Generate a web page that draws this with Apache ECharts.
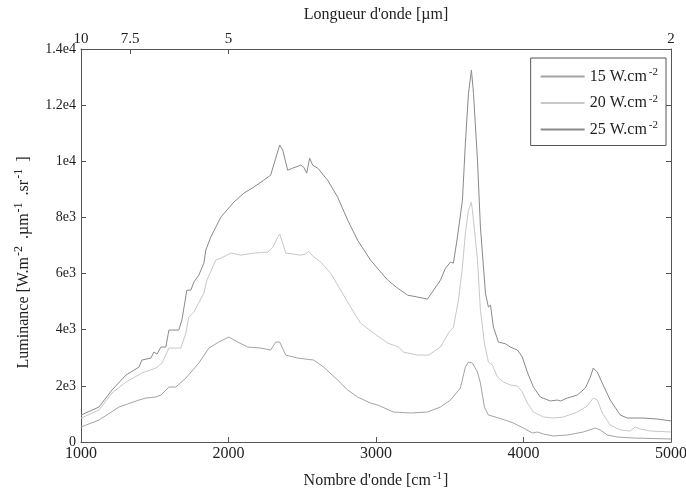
<!DOCTYPE html>
<html>
<head>
<meta charset="utf-8">
<script src="https://cdn.jsdelivr.net/npm/echarts@6/dist/echarts.min.js"></script>
<style>
  html, body { margin: 0; padding: 0; background: #fff; }
  #chart { width: 686px; height: 490px; }
</style>
</head>
<body>
<div id="chart"></div>
<script>
// nombre d'onde [cm-1] / luminance
var wn15 = [1000,1122,1257,1393,1440,1508,1542,1596,1643,1711,1799,1867,1934,2002,2063,2131,2219,2286,2320,2347,2388,2469,2577,2645,2740,2808,2875,2963,3011,3119,3234,3349,3437,3505,3572,3606,3627,3654,3688,3708,3735,3762,3823,3870,3931,3999,4060,4094,4135,4202,4297,4405,4487,4521,4568,4636,4744,5000];
var lum15 = [534,783,1246,1495,1566,1602,1673,1958,1958,2278,2812,3346,3560,3738,3560,3382,3346,3275,3560,3560,3097,2990,2919,2670,2207,1851,1602,1388,1317,1068,1032,1068,1246,1495,1922,2670,2848,2812,2492,2100,1246,961,870,790,676,498,320,356,285,214,249,356,498,427,249,178,142,107];

var wn20 = [1000,1122,1210,1305,1413,1508,1549,1596,1677,1711,1731,1765,1833,1853,1914,1948,2016,2084,2171,2266,2300,2334,2347,2368,2388,2442,2489,2523,2543,2571,2625,2692,2760,2828,2895,2984,3079,3153,3187,3281,3356,3437,3491,3525,3559,3586,3606,3627,3647,3661,3688,3708,3735,3762,3789,3823,3864,3911,3959,3992,4026,4067,4135,4202,4270,4365,4432,4473,4500,4534,4588,4656,4724,4758,4791,4859,5000];
var lum20 = [850,1139,1744,2136,2456,2634,2812,3346,3346,3880,4450,4628,5304,5767,6479,6550,6728,6657,6728,6764,6942,7298,7405,7084,6728,6693,6657,6693,6800,6622,6408,6016,5411,4806,4236,3880,3524,3382,3204,3097,3097,3382,3880,4094,5055,6230,7440,8259,8544,7903,6479,4699,3524,2848,2741,2314,2136,2029,1994,1780,1388,1068,890,854,890,1068,1282,1566,1495,1032,605,427,392,534,463,392,356];

var wn25 = [1000,1122,1210,1305,1393,1413,1474,1494,1515,1542,1575,1596,1663,1684,1718,1745,1765,1799,1833,1846,1880,1948,2036,2104,2171,2239,2286,2320,2347,2368,2401,2435,2489,2510,2530,2550,2571,2605,2672,2740,2808,2875,2963,3079,3146,3214,3349,3437,3471,3505,3525,3552,3586,3606,3627,3647,3661,3688,3708,3742,3762,3776,3796,3830,3877,3911,3959,3992,4026,4067,4114,4182,4229,4250,4297,4365,4419,4453,4473,4500,4534,4588,4656,4703,4744,4811,4906,5000];
var lum25 = [960,1246,1851,2385,2670,2919,2990,3204,3133,3382,3382,3987,3987,4343,5411,5411,5696,5945,6372,6835,7300,8010,8544,8864,9078,9327,9505,10110,10573,10395,9683,9754,9861,9790,9576,10110,9861,9754,9327,8722,7903,7191,6479,5767,5482,5233,5091,5767,6194,6408,6372,7298,8615,10644,12424,13243,12424,10039,7654,5304,4806,4877,4094,3560,3500,3382,3275,3026,2492,1958,1602,1460,1495,1460,1566,1673,1922,2314,2634,2492,2100,1495,961,854,854,854,819,750];

var seriesNames = ['15', '20', '25'];
var seriesColors = ['#a4a4a4', '#c8c8c8', '#8a8a8a'];
// longueurs d'onde de l'axe du haut [µm]
var topLabels = [10, 7.5, 5, 2];

var FONT = '"Liberation Serif", "DejaVu Serif", serif';

function zip(xs, ys) {
    var out = [];
    for (var i = 0; i < xs.length; i++) out.push([xs[i], ys[i]]);
    return out;
}

function fmtSci(v) {
    if (v === 0) return '0';
    var e = Math.floor(Math.log10(v) + 1e-9);
    var m = Math.round(v / Math.pow(10, e) * 10) / 10;
    return m + 'e' + e;
}

var sup = { fontSize: 11, fontFamily: FONT, color: '#222', padding: [0, 1, 8, 2] };
var supWide = { fontSize: 12, fontFamily: FONT, color: '#222', padding: [0, 7, 9, 1] };
var axisCol = '#555';

var chart = echarts.init(document.getElementById('chart'));

var option = {
    animation: false,
    backgroundColor: '#fff',
    textStyle: { fontFamily: FONT },
    grid: { left: 81, right: 15, top: 49, bottom: 48, outerBoundsMode: 'none' },
    legend: {
        orient: 'vertical',
        right: 20,
        top: 58,
        padding: [9, 8, 8, 9],
        itemGap: 9,
        itemWidth: 44,
        itemHeight: 17,
        borderColor: '#555',
        borderWidth: 1,
        backgroundColor: '#fff',
        itemStyle: { opacity: 0 },
        data: seriesNames,
        formatter: function (n) { return n + ' W.cm{s|-2}'; },
        textStyle: {
            fontFamily: FONT, fontSize: 16, color: '#222',
            rich: { s: sup }
        }
    },
    xAxis: [{
        type: 'value',
        position: 'bottom',
        min: 1000, max: 5000, interval: 1000,
        name: "Nombre d'onde [cm{s|-1}]",
        nameLocation: 'middle',
        nameGap: 29,
        nameTextStyle: { fontFamily: FONT, fontSize: 16, color: '#222', rich: { s: sup } },
        axisLine: { onZero: false, lineStyle: { color: axisCol, width: 1 } },
        axisTick: { inside: true, length: 5, lineStyle: { color: axisCol } },
        axisLabel: { fontFamily: FONT, fontSize: 16, color: '#222', margin: 4,
            formatter: function (v) { return String(v); } },
        splitLine: { show: false }
    }, {
        type: 'value',
        position: 'top',
        min: 1000, max: 5000,
        name: "Longueur d'onde [µm]",
        nameLocation: 'middle',
        nameGap: 26,
        nameTextStyle: { fontFamily: FONT, fontSize: 16, color: '#222' },
        axisLine: { onZero: false, lineStyle: { color: axisCol, width: 1 } },
        axisTick: {
            inside: true, length: 5, lineStyle: { color: axisCol },
            customValues: topLabels.map(function (l) { return 10000 / l; })
        },
        axisLabel: {
            fontFamily: FONT, fontSize: 15, color: '#222', margin: 2,
            customValues: topLabels.map(function (l) { return 10000 / l; }),
            formatter: function (v) { return String(Math.round(10000 / v * 10) / 10); }
        },
        splitLine: { show: false }
    }],
    yAxis: [{
        type: 'value',
        min: 0, max: 14000, interval: 2000,
        name: 'Luminance [W.m{s|-2}.µm{s|-1}.sr{s|-1}]',
        nameLocation: 'middle',
        nameGap: 47,
        nameRotate: 90,
        nameTextStyle: { fontFamily: FONT, fontSize: 16, color: '#222',
            padding: [0, 34, 0, 0], rich: { s: supWide } },
        axisLine: { show: true, onZero: false, lineStyle: { color: axisCol, width: 1 } },
        axisTick: { show: true, inside: true, length: 5, lineStyle: { color: axisCol } },
        axisLabel: { fontFamily: FONT, fontSize: 14, color: '#222', margin: 5, formatter: fmtSci },
        splitLine: { show: false }
    }, {
        type: 'value',
        position: 'right',
        min: 0, max: 14000, interval: 2000,
        axisLine: { show: true, onZero: false, lineStyle: { color: axisCol, width: 1 } },
        axisTick: { show: true, inside: true, length: 5, lineStyle: { color: axisCol } },
        axisLabel: { show: false },
        splitLine: { show: false }
    }],
    series: [
        { name: '15', data: zip(wn15, lum15) },
        { name: '20', data: zip(wn20, lum20) },
        { name: '25', data: zip(wn25, lum25) }
    ].map(function (s, i) {
        return {
            name: s.name,
            type: 'line',
            data: s.data,
            symbol: 'none',
            showSymbol: false,
            color: seriesColors[i],
            lineStyle: { width: 1, color: seriesColors[i] }
        };
    })
};

chart.setOption(option);
</script>
</body>
</html>
